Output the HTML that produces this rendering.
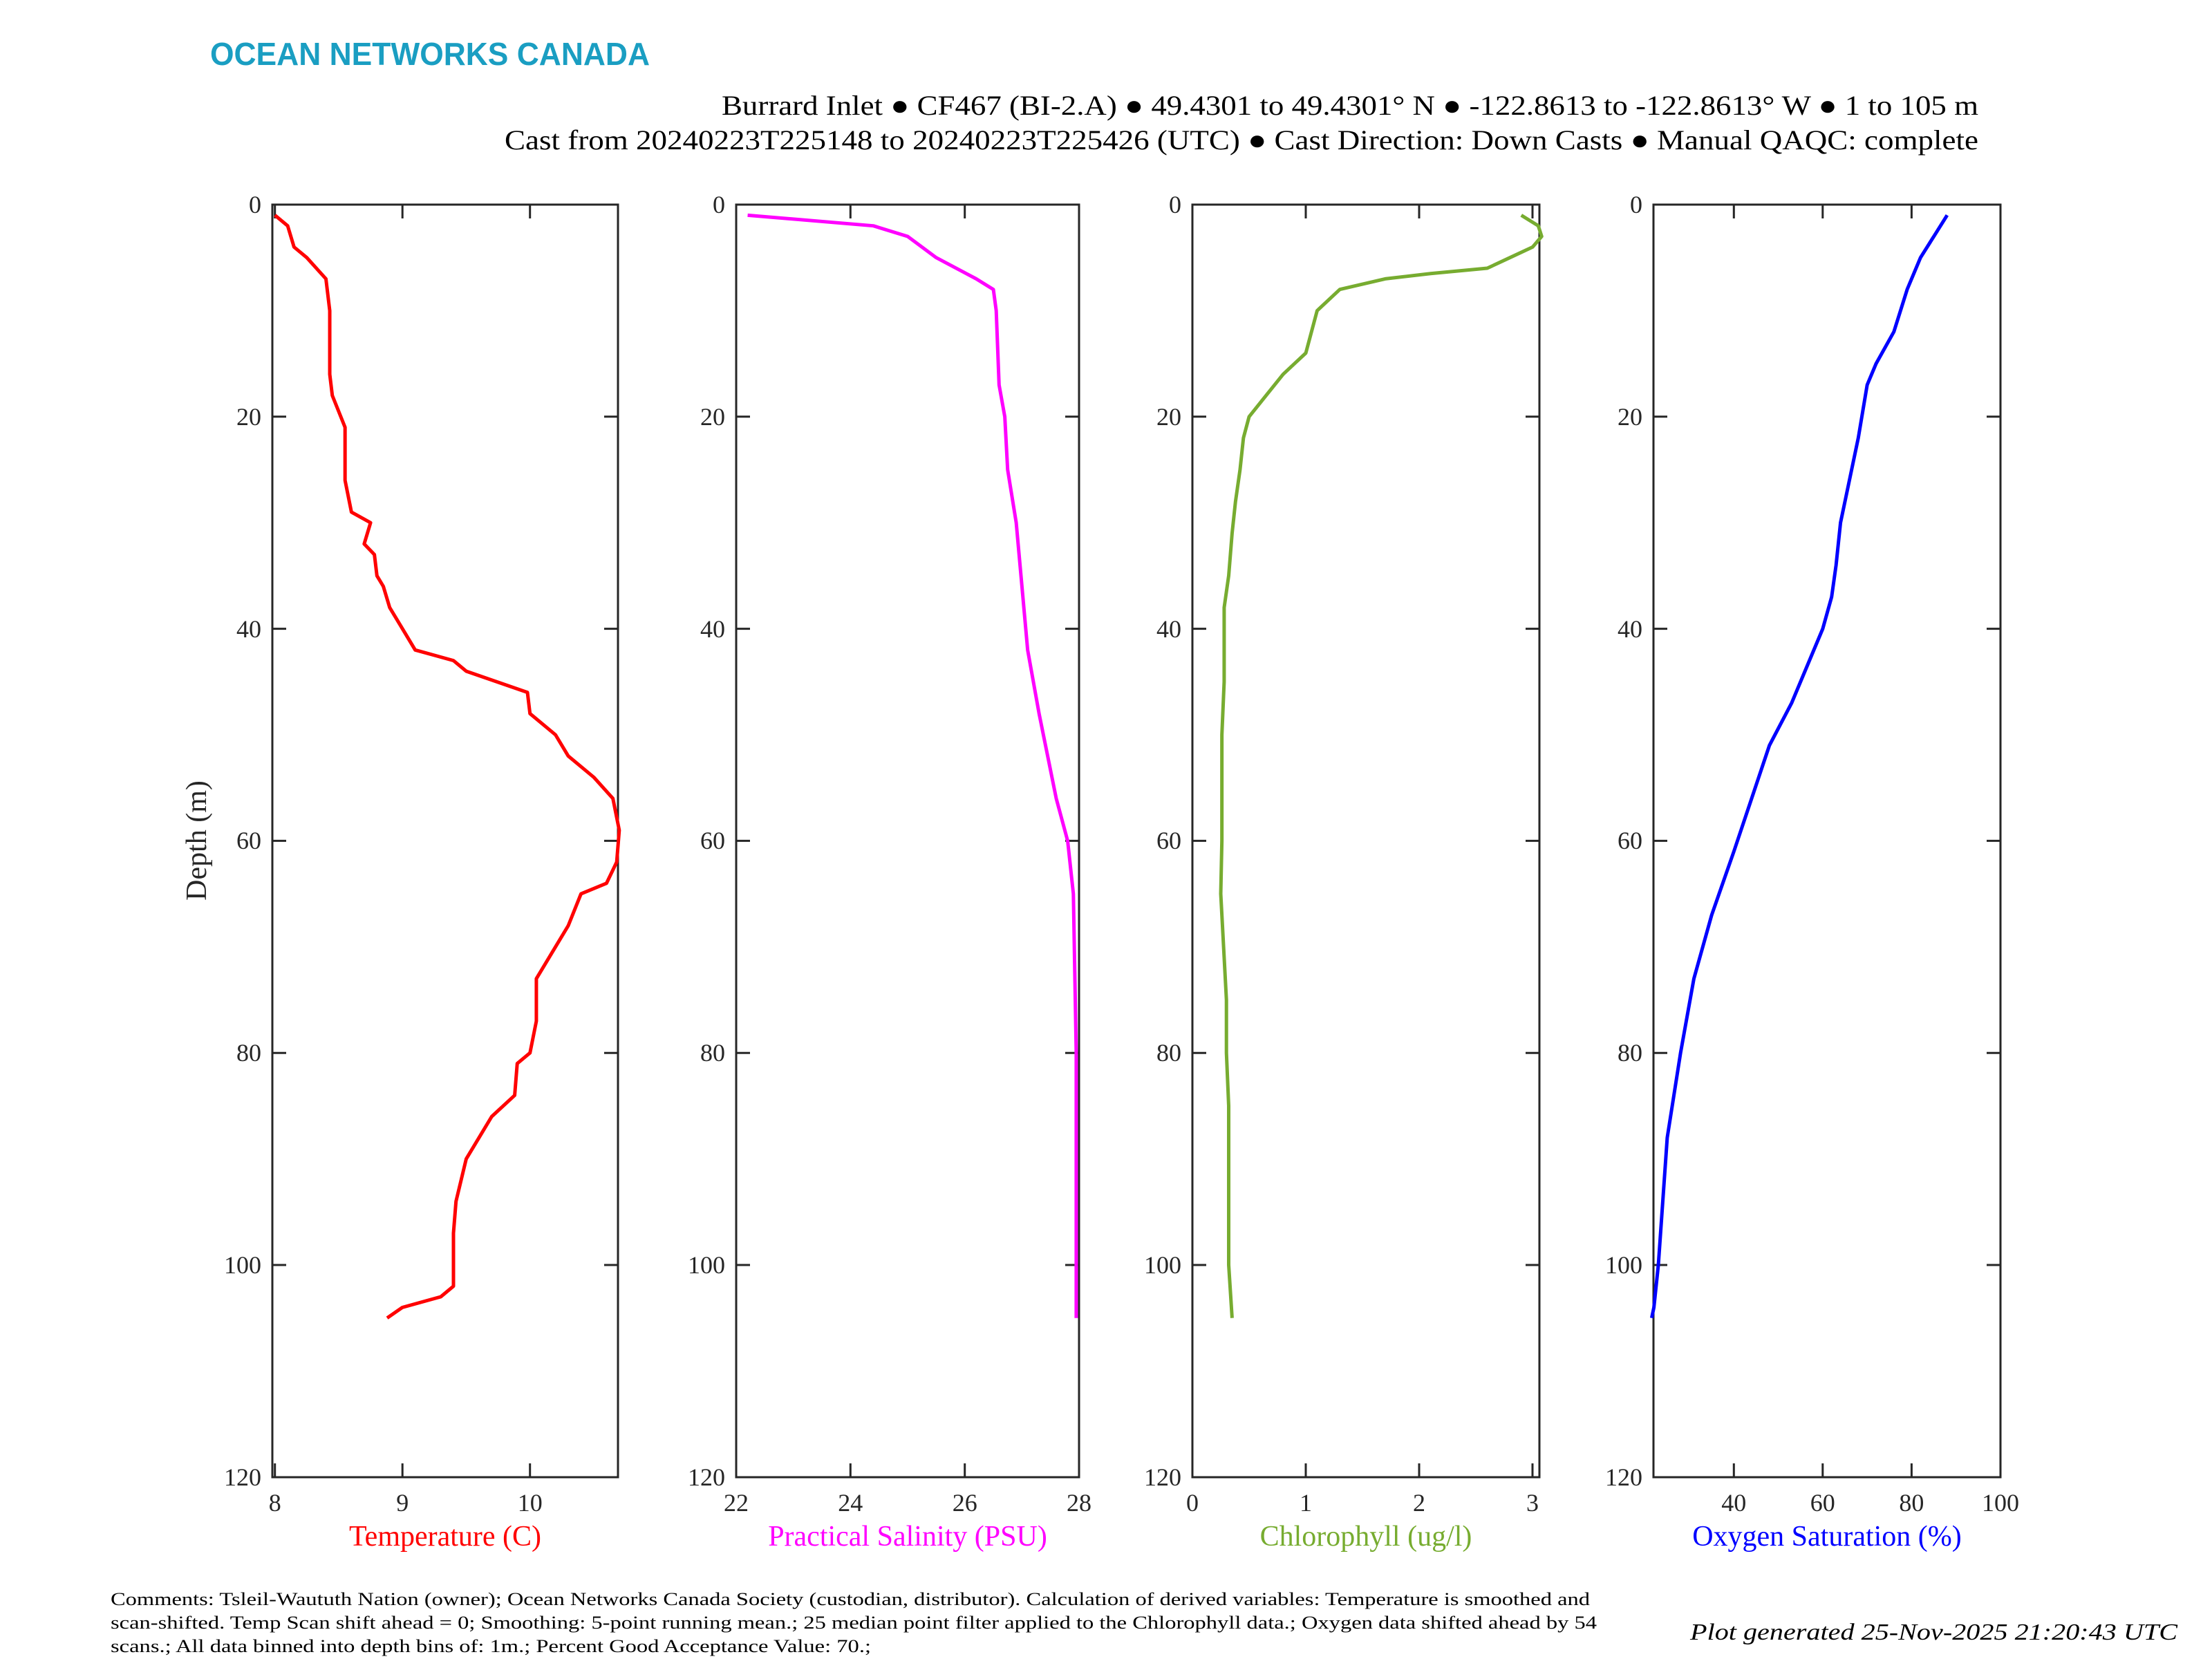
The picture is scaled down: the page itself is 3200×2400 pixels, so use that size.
<!DOCTYPE html>
<html><head><meta charset="utf-8"><style>
html,body{margin:0;padding:0;background:#fff;}
svg{display:block;}
text{font-family:"Liberation Serif",serif;}
</style></head><body>
<svg width="3200" height="2400" viewBox="0 0 3200 2400" xmlns="http://www.w3.org/2000/svg">
<rect width="3200" height="2400" fill="#fff"/>
<text x="304" y="94" font-weight="bold" font-size="46" fill="#1a9ec2" style="font-family:'Liberation Sans',sans-serif" textLength="636" lengthAdjust="spacingAndGlyphs">OCEAN NETWORKS CANADA</text>
<text x="2862" y="166" font-size="40" text-anchor="end" textLength="1818" lengthAdjust="spacingAndGlyphs">Burrard Inlet ● CF467 (BI-2.A) ● 49.4301 to 49.4301° N ● -122.8613 to -122.8613° W ● 1 to 105 m</text>
<text x="2862" y="216" font-size="40" text-anchor="end" textLength="2132" lengthAdjust="spacingAndGlyphs">Cast from 20240223T225148 to 20240223T225426 (UTC) ● Cast Direction: Down Casts ● Manual QAQC: complete</text>

<g fill="none" stroke="#262626" stroke-width="3">
<rect x="394" y="296" width="500" height="1841"/>
<rect x="1065" y="296" width="496" height="1841"/>
<rect x="1725" y="296" width="502" height="1841"/>
<rect x="2392" y="296" width="502" height="1841"/>
<path d="M394 602.8h20M394 909.6h20M394 1216.4h20M394 1523.2h20M394 1830h20M874 602.8h20M874 909.6h20M874 1216.4h20M874 1523.2h20M874 1830h20"/>
<path d="M1065 602.8h20M1065 909.6h20M1065 1216.4h20M1065 1523.2h20M1065 1830h20M1541 602.8h20M1541 909.6h20M1541 1216.4h20M1541 1523.2h20M1541 1830h20"/>
<path d="M1725 602.8h20M1725 909.6h20M1725 1216.4h20M1725 1523.2h20M1725 1830h20M2207 602.8h20M2207 909.6h20M2207 1216.4h20M2207 1523.2h20M2207 1830h20"/>
<path d="M2392 602.8h20M2392 909.6h20M2392 1216.4h20M2392 1523.2h20M2392 1830h20M2874 602.8h20M2874 909.6h20M2874 1216.4h20M2874 1523.2h20M2874 1830h20"/>
<path d="M397.7 296v20M582.2 296v20M766.7 296v20M397.7 2137v-20M582.2 2137v-20M766.7 2137v-20"/>
<path d="M1230.3 296v20M1395.7 296v20M1230.3 2137v-20M1395.7 2137v-20"/>
<path d="M1889 296v20M2053 296v20M2217 296v20M1889 2137v-20M2053 2137v-20M2217 2137v-20"/>
<path d="M2508.3 296v20M2636.8 296v20M2765.4 296v20M2508.3 2137v-20M2636.8 2137v-20M2765.4 2137v-20"/>
</g>

<g font-size="36" fill="#262626" text-anchor="end">
<text x="378" y="308">0</text><text x="378" y="615">20</text><text x="378" y="922">40</text><text x="378" y="1228">60</text><text x="378" y="1535">80</text><text x="378" y="1842">100</text><text x="378" y="2149">120</text>
<text x="1049" y="308">0</text><text x="1049" y="615">20</text><text x="1049" y="922">40</text><text x="1049" y="1228">60</text><text x="1049" y="1535">80</text><text x="1049" y="1842">100</text><text x="1049" y="2149">120</text>
<text x="1709" y="308">0</text><text x="1709" y="615">20</text><text x="1709" y="922">40</text><text x="1709" y="1228">60</text><text x="1709" y="1535">80</text><text x="1709" y="1842">100</text><text x="1709" y="2149">120</text>
<text x="2376" y="308">0</text><text x="2376" y="615">20</text><text x="2376" y="922">40</text><text x="2376" y="1228">60</text><text x="2376" y="1535">80</text><text x="2376" y="1842">100</text><text x="2376" y="2149">120</text>
</g>
<g font-size="36" fill="#262626" text-anchor="middle">
<text x="397.7" y="2186">8</text><text x="582.2" y="2186">9</text><text x="766.7" y="2186">10</text>
<text x="1065" y="2186">22</text><text x="1230.3" y="2186">24</text><text x="1395.7" y="2186">26</text><text x="1561" y="2186">28</text>
<text x="1725" y="2186">0</text><text x="1889" y="2186">1</text><text x="2053" y="2186">2</text><text x="2217" y="2186">3</text>
<text x="2508.3" y="2186">40</text><text x="2636.8" y="2186">60</text><text x="2765.4" y="2186">80</text><text x="2894" y="2186">100</text>
</g>
<g font-size="42" text-anchor="middle">
<text x="644" y="2236" fill="#ff0000">Temperature (C)</text>
<text x="1313" y="2236" fill="#ff00ff">Practical Salinity (PSU)</text>
<text x="1976" y="2236" fill="#77ac30">Chlorophyll (ug/l)</text>
<text x="2643" y="2236" fill="#0000ff">Oxygen Saturation (%)</text>
<text x="0" y="0" fill="#262626" transform="translate(298 1216) rotate(-90)">Depth (m)</text>
</g>

<g fill="none" stroke-width="5" stroke-linejoin="round">
<polyline vector-effect="non-scaling-stroke" stroke="#ff0000" transform="matrix(184.5 0 0 15.34 -1078.3 296)" points="8.0,1 8.1,2 8.15,4 8.25,5 8.4,7 8.43,10 8.43,16 8.45,18 8.55,21 8.55,26 8.6,29 8.75,30 8.7,32 8.78,33 8.8,35 8.85,36 8.9,38 9,40 9.1,42 9.4,43 9.5,44 9.98,46 10.0,48 10.2,50 10.3,52 10.5,54 10.65,56 10.7,59 10.68,62 10.6,64 10.4,65 10.3,68 10.2,70 10.05,73 10.05,77 10.0,80 9.9,81 9.88,84 9.7,86 9.6,88 9.5,90 9.42,94 9.4,97 9.4,102 9.3,103 9.0,104 8.88,105"/>
<polyline vector-effect="non-scaling-stroke" stroke="#ff00ff" transform="matrix(82.67 0 0 15.34 -753.7 296)" points="22.2,1 24.4,2 25,3 25.5,5 26.2,7 26.5,8 26.55,10 26.6,17 26.7,20 26.75,25 26.9,30 27.0,36 27.1,42 27.2,45 27.3,48 27.45,52 27.6,56 27.8,60 27.9,65 27.95,80 27.95,105"/>
<polyline vector-effect="non-scaling-stroke" stroke="#77ac30" transform="matrix(164.05 0 0 15.34 1725 296)" points="2.9,1 3.05,2 3.08,3 3.0,4 2.8,5 2.6,6 2.1,6.5 1.7,7 1.3,8 1.1,10 1.05,12 1.0,14 0.9,15 0.8,16 0.65,18 0.5,20 0.45,22 0.42,25 0.38,28 0.35,31 0.32,35 0.28,38 0.28,45 0.26,50 0.26,60 0.25,65 0.3,75 0.3,80 0.32,85 0.32,100 0.35,105"/>
<polyline vector-effect="non-scaling-stroke" stroke="#0000ff" transform="matrix(6.428 0 0 15.34 2251.2 296)" points="88,1 85,3 82,5 79,8 76,12 72,15 70,17 68,22 66,26 64,30 63,34 62,37 60,40 57,43 53,47 48,51 44,56 40,61 35,67 31,73 28,80 25,88 24,94 23,100 22,104 21.5,105"/>
</g>

<g font-size="26" fill="#000">
<text x="160" y="2322" textLength="2140" lengthAdjust="spacingAndGlyphs">Comments: Tsleil-Waututh Nation (owner); Ocean Networks Canada Society (custodian, distributor). Calculation of derived variables: Temperature is smoothed and</text>
<text x="160" y="2356" textLength="2150" lengthAdjust="spacingAndGlyphs">scan-shifted. Temp Scan shift ahead = 0; Smoothing: 5-point running mean.; 25 median point filter applied to the Chlorophyll data.; Oxygen data shifted ahead by 54</text>
<text x="160" y="2390" textLength="1100" lengthAdjust="spacingAndGlyphs">scans.; All data binned into depth bins of: 1m.; Percent Good Acceptance Value: 70.;</text>
</g>
<text x="3150" y="2372" font-size="34" font-style="italic" text-anchor="end" textLength="705" lengthAdjust="spacingAndGlyphs">Plot generated 25-Nov-2025 21:20:43 UTC</text>
</svg>
</body></html>
